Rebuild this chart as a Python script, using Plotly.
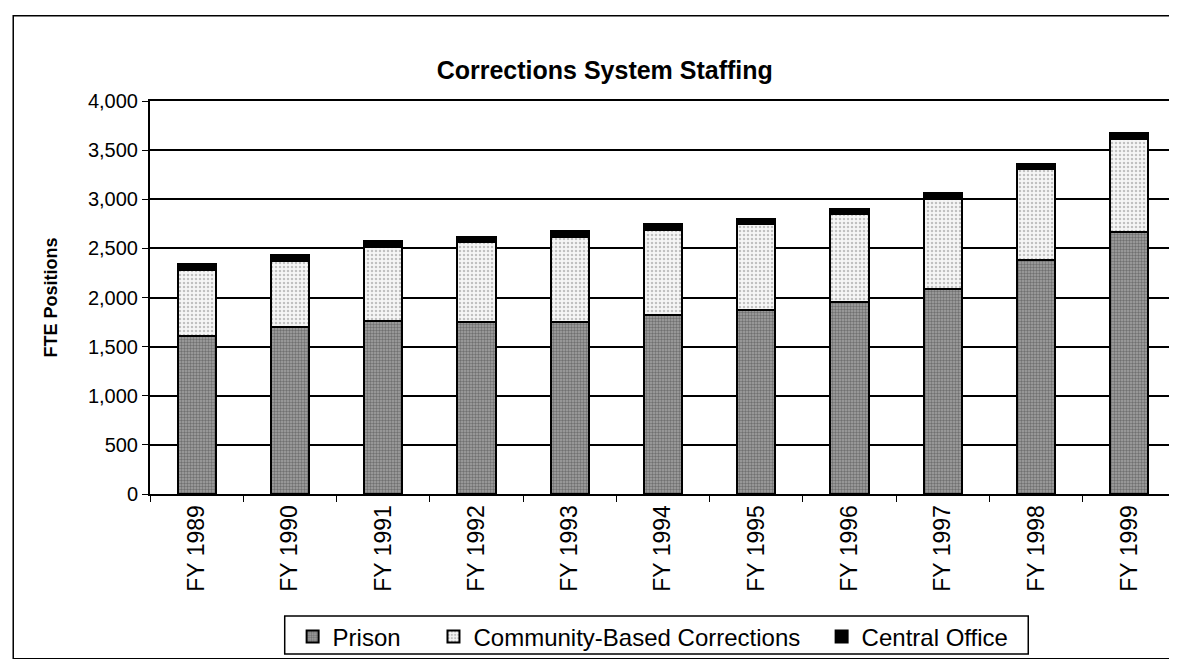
import plotly.graph_objects as go

# Data (FTE positions)
years = ['FY 1989', 'FY 1990', 'FY 1991', 'FY 1992', 'FY 1993', 'FY 1994',
         'FY 1995', 'FY 1996', 'FY 1997', 'FY 1998', 'FY 1999']
prison = [1610, 1700, 1760, 1750, 1755, 1825, 1875, 1955, 2085, 2380, 2665]
community = [675, 675, 755, 815, 860, 865, 875, 890, 920, 925, 950]
central_office = [55, 55, 60, 50, 60, 55, 50, 55, 55, 55, 60]

y_ticks = [0, 500, 1000, 1500, 2000, 2500, 3000, 3500, 4000]

font_family = 'Liberation Sans, Arial, sans-serif'
outline = dict(color='black', width=2)

prison_bar = go.Bar(x=years, y=prison, name='Prison', legend='legend',
                    marker=dict(color='#909090', line=outline,
                                pattern=dict(shape='.', fgcolor='#3c3c3c', bgcolor='#a4a4a4',
                                             size=3, solidity=0.5)))
community_bar = go.Bar(x=years, y=community, name='Community-Based Corrections', legend='legend2',
                       marker=dict(color='#eeeeee', line=outline,
                                   pattern=dict(shape='.', fgcolor='#8c8c8c', bgcolor='#f6f6f6',
                                                size=4, solidity=0.3)))
central_bar = go.Bar(x=years, y=central_office, name='Central Office', legend='legend3',
                     marker=dict(color='black', line=outline))

fig = go.Figure(data=[prison_bar, community_bar, central_bar])

# one small legend per entry so the spacing can follow the original box
legend_style = dict(orientation='h', y=-0.3636, yanchor='middle', xanchor='left',
                    borderwidth=0, bgcolor='rgba(0,0,0,0)', font=dict(size=24))

fig.update_layout(
    width=1177, height=659,
    barmode='stack', bargap=0.59,
    plot_bgcolor='white', paper_bgcolor='white',
    margin=dict(l=142, r=7, t=93, b=170),
    font=dict(family=font_family, size=18, color='black'),
    title=dict(text='<b>Corrections System Staffing</b>', x=0.507, xanchor='center',
               y=0.906, yanchor='middle', font=dict(size=25, color='black')),
    legend=dict(x=0.139, **legend_style),
    legend2=dict(x=0.2763, **legend_style),
    legend3=dict(x=0.6546, **legend_style),
    showlegend=True,
)

fig.update_xaxes(tickangle=-90, showline=True, linecolor='black', linewidth=2, mirror=True,
                 ticks='outside', tickson='boundaries', ticklen=6, tickcolor='black',
                 tickfont=dict(size=23))
fig.update_yaxes(range=[0, 4000], tickvals=y_ticks, tickformat=',', showgrid=True,
                 gridcolor='black', gridwidth=1.5, showline=True, linecolor='black',
                 linewidth=2, mirror=True, ticks='outside', ticklen=6, tickcolor='black',
                 tickfont=dict(size=20), zeroline=False,
                 title=dict(text='<b>FTE Positions</b>', font=dict(size=18), standoff=26))

# Outer frame around the whole chart
fig.add_shape(type='rect', xref='paper', yref='paper', x0=-0.1333, x1=1.0049,
              y0=-0.419, y1=1.217, line=dict(color='black', width=1.5), layer='below')
# Box around the legend entries
fig.add_shape(type='rect', xref='paper', yref='paper', x0=0.1313, x1=0.856,
              y0=-0.407, y1=-0.3106, line=dict(color='black', width=1.5), layer='below')

fig.write_html("out.html")
